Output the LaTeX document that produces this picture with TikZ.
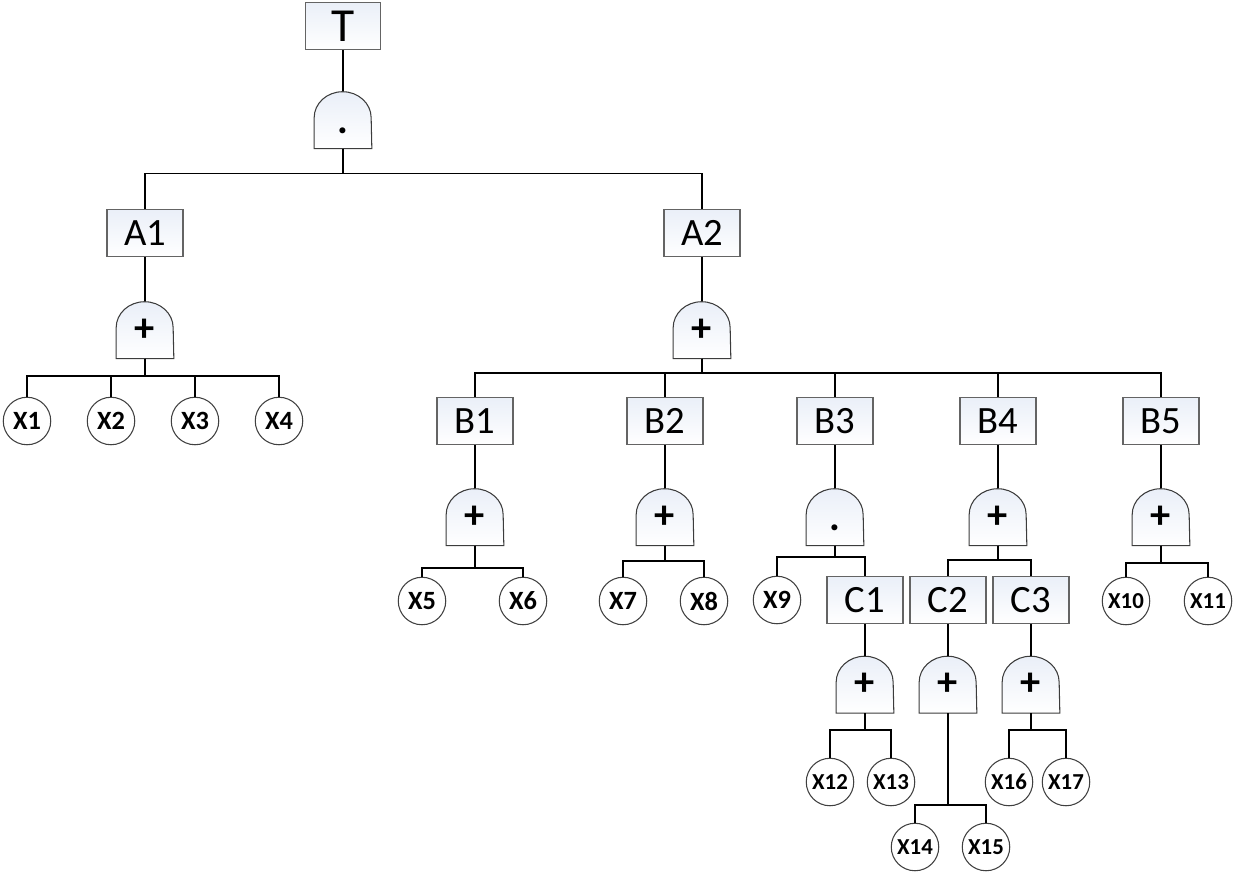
\documentclass[tikz,border=0pt]{standalone}
\usepackage{fontspec}
\setmainfont{Carlito}
\usepackage{tikz}
\usetikzlibrary{positioning, backgrounds}

\definecolor{boxtint}{RGB}{234,239,248}
\definecolor{edgegray}{RGB}{100,100,100}

\begin{document}
\begin{tikzpicture}[
    x=0.02cm, y=-0.02cm,
    event/.style={
        rectangle,
        draw=edgegray,
        line width=0.6pt,
        top color=boxtint,
        bottom color=white,
        minimum width=1.52cm,
        minimum height=0.94cm,
        inner sep=0pt,
        font=\fontsize{22}{26}\selectfont
    },
    gate/.style={
        rectangle,
        draw=none,
        minimum width=1.14cm,
        minimum height=1.14cm,
        inner sep=0pt,
        font=\fontsize{23}{26}\selectfont\bfseries
    },
    basic/.style={
        circle,
        draw=black!75,
        line width=0.6pt,
        fill=white,
        minimum size=0.95cm,
        inner sep=0pt,
        font=\fontsize{15}{17}\selectfont\bfseries
    },
    basicsmall/.style={basic, font=\fontsize{13}{15}\selectfont\bfseries},
    wire/.style={line width=0.9pt}
]
\useasboundingbox (0,0) rectangle (1234,873);

% top event and first level
\node[event, minimum width=1.5cm, font=\fontsize{27}{30}\selectfont] (t) at (343,26) {T};
\node[gate, below=0.82cm of t] (gt) {\raisebox{-3pt}{.}\vphantom{+}};

\node[event] (a1) at (145,233) {A1};
\node[event] (a2) at (702,233) {A2};
\node[gate, below=0.88cm of a1] (ga1) {+};
\node[gate, below=0.88cm of a2] (ga2) {+};

% basic events under A1
\node[basic] (x1) at (27,421) {X1};
\node[basic] (x2) at (111,421) {X2};
\node[basic] (x3) at (195,421) {X3};
\node[basic] (x4) at (279,421) {X4};

% intermediate events under A2
\node[event] (b1) at (475,421) {B1};
\node[event] (b2) at (665,421) {B2};
\node[event] (b3) at (835,421) {B3};
\node[event] (b4) at (998,421) {B4};
\node[event] (b5) at (1161,421) {B5};
\node[gate, below=0.86cm of b1] (gb1) {+};
\node[gate, below=0.86cm of b2] (gb2) {+};
\node[gate, below=0.86cm of b3] (gb3) {\raisebox{-3pt}{.}\vphantom{+}};
\node[gate, below=0.86cm of b4] (gb4) {+};
\node[gate, below=0.86cm of b5] (gb5) {+};

\node[basic] (x5) at (422,601) {X5};
\node[basic] (x6) at (523,601) {X6};
\node[basic] (x7) at (623,601) {X7};
\node[basic] (x8) at (704,601) {X8};
\node[basic] (x9) at (777,600) {X9};
\node[basicsmall] (x10) at (1126,601) {X10};
\node[basicsmall] (x11) at (1208,601) {X11};

\node[event] (c1) at (865,600) {C1};
\node[event] (c2) at (948,600) {C2};
\node[event] (c3) at (1031,600) {C3};
\node[gate, below=0.63cm of c1] (gc1) {+};
\node[gate, below=0.63cm of c2] (gc2) {+};
\node[gate, below=0.63cm of c3] (gc3) {+};

\node[basicsmall] (x12) at (830,782) {X12};
\node[basicsmall] (x13) at (891,782) {X13};
\node[basicsmall] (x14) at (915,847) {X14};
\node[basicsmall] (x15) at (986,847) {X15};
\node[basicsmall] (x16) at (1009,782) {X16};
\node[basicsmall] (x17) at (1066,782) {X17};

% gate outlines
\begin{scope}[on background layer]
\foreach \g in {gt,ga1,ga2,gb1,gb2,gb3,gb4,gb5,gc1,gc2,gc3}
    \draw[draw=edgegray!60!black, line width=0.6pt, top color=boxtint, bottom color=white]
        (\g.south west) -- ++(0cm,0.62cm)
        arc[start angle=180, end angle=0, x radius=0.57cm, y radius=0.52cm]
        -- (\g.south east) -- cycle;
\end{scope}

% connectors
\foreach \a/\b in {t/gt, a1/ga1, a2/ga2, b1/gb1, b2/gb2, b3/gb3, b4/gb4, b5/gb5, c1/gc1, c2/gc2, c3/gc3}
    \draw[wire] (\a) -- (\b);

\foreach \c in {a1,a2}
    \draw[wire] (gt.south) -- ++(0cm,-0.5cm) -| (\c.north);
\foreach \c in {x1,x2,x3,x4}
    \draw[wire] (ga1.south) -- ++(0cm,-0.34cm) -| (\c.north);
\foreach \c in {b1,b2,b3,b4,b5}
    \draw[wire] (ga2.south) -- ++(0cm,-0.28cm) -| (\c.north);

\foreach \c in {x5,x6}
    \draw[wire] (gb1.south) -- ++(0cm,-0.44cm) -| (\c.north);
\foreach \c in {x7,x8}
    \draw[wire] (gb2.south) -- ++(0cm,-0.3cm) -| (\c.north);
\foreach \c in {x9,c1}
    \draw[wire] (gb3.south) -- ++(0cm,-0.22cm) -| (\c.north);
\foreach \c in {c2,c3}
    \draw[wire] (gb4.south) -- ++(0cm,-0.28cm) -| (\c.north);
\foreach \c in {x10,x11}
    \draw[wire] (gb5.south) -- ++(0cm,-0.34cm) -| (\c.north);

\foreach \c in {x12,x13}
    \draw[wire] (gc1.south) -- ++(0cm,-0.34cm) -| (\c.north);
\foreach \c in {x14,x15}
    \draw[wire] (gc2.south) -- ++(0cm,-1.84cm) -| (\c.north);
\foreach \c in {x16,x17}
    \draw[wire] (gc3.south) -- ++(0cm,-0.34cm) -| (\c.north);

\end{tikzpicture}
\end{document}
